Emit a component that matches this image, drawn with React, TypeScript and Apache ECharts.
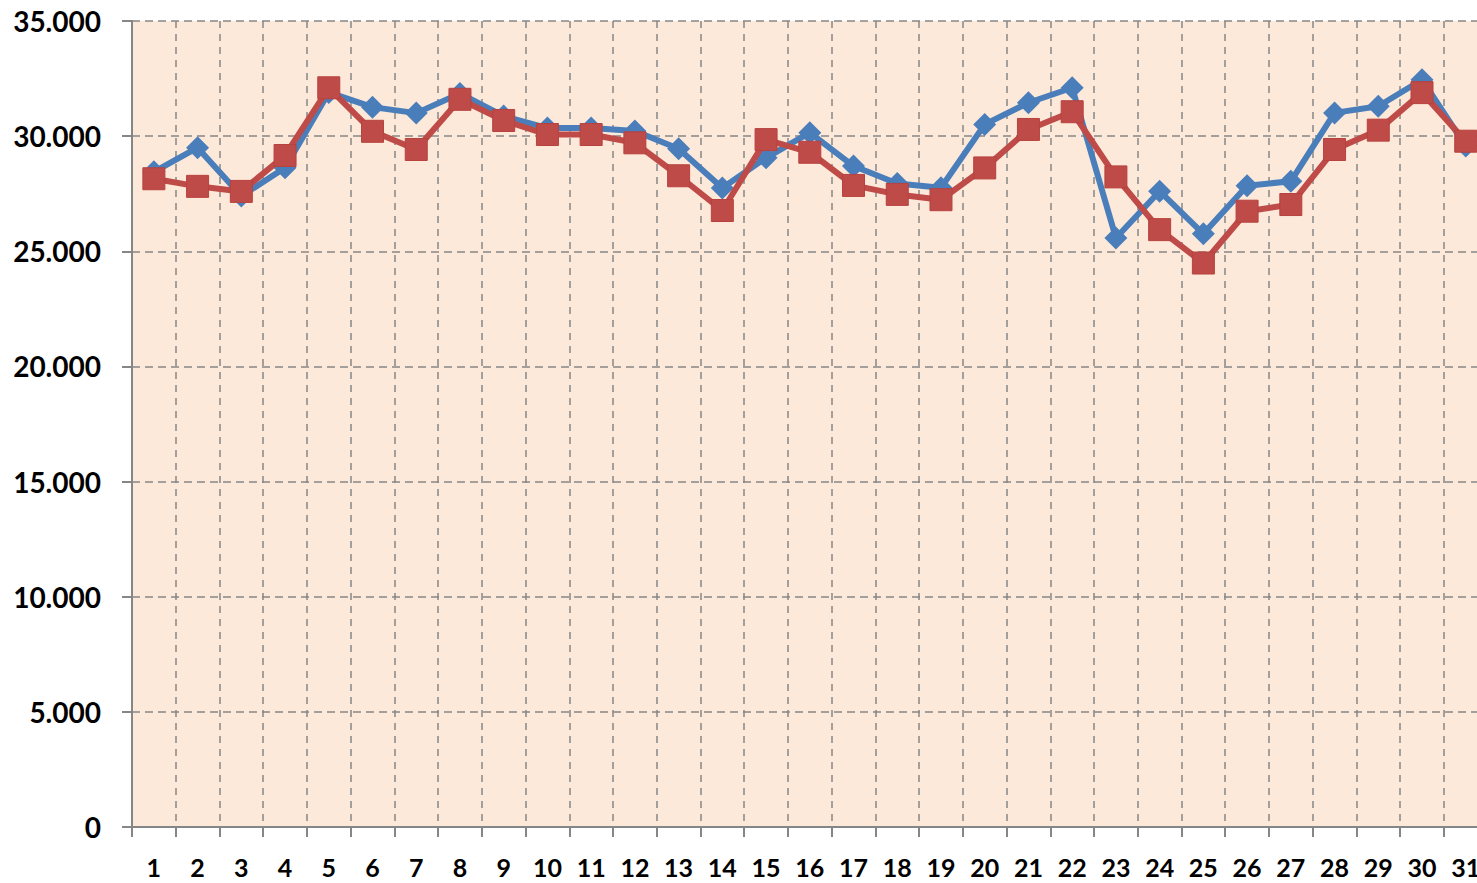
import React, { useEffect, useRef } from "react";
import * as echarts from "echarts";

const categories = ["1","2","3","4","5","6","7","8","9","10","11","12","13","14","15","16","17","18","19","20","21","22","23","24","25","26","27","28","29","30","31"];
const blueSeries = [28450, 29500, 27400, 28630, 31900, 31260, 31000, 31850, 30870, 30350, 30350, 30220, 29450, 27750, 29060, 30150, 28700, 27940, 27760, 30510, 31450, 32100, 25580, 27610, 25760, 27850, 28040, 31010, 31300, 32450, 29570];
const redSeries = [28150, 27820, 27600, 29160, 32100, 30210, 29420, 31600, 30680, 30070, 30070, 29710, 28280, 26770, 29850, 29300, 27860, 27470, 27240, 28620, 30290, 31060, 28230, 25940, 24490, 26740, 27030, 29420, 30260, 31890, 29780];
const yTicks = { min: 0, max: 35000, interval: 5000 };

const fmt = (v: number) => {
  if (v === 0) return "0";
  const s = String(Math.round(v));
  return s.replace(/\B(?=(\d{3})+(?!\d))/g, ".");
};

export default function App() {
  const ref = useRef<HTMLDivElement>(null);
  useEffect(() => {
    if (!ref.current) return;
    const chart = echarts.init(ref.current, null, { renderer: "svg" });
    const gridColor = "#868686";
    chart.setOption({
      animation: false,
      grid: {
        left: 132,
        top: 21,
        bottom: 56,
        right: 12.4,
        show: true,
        backgroundColor: "#FDE9D9",
        borderWidth: 0,
      },
      xAxis: {
        type: "category",
        data: categories,
        boundaryGap: true,
        axisLine: { show: true, lineStyle: { color: gridColor, width: 2 } },
        axisTick: { show: true, length: 10, alignWithLabel: false, lineStyle: { color: gridColor, width: 2 } },
        axisLabel: {
          margin: 28,
          color: "#000",
          fontFamily: "Lato",
          fontWeight: "bold",
          fontSize: 25,
          lineHeight: 24,
          interval: 0,
        },
        splitLine: { show: true, lineStyle: { color: gridColor, width: 1.5, type: [7, 6] } },
      },
      yAxis: {
        type: "value",
        min: yTicks.min,
        max: yTicks.max,
        interval: yTicks.interval,
        axisLine: { show: true, lineStyle: { color: gridColor, width: 2 } },
        axisTick: { show: true, length: 10, lineStyle: { color: gridColor, width: 2 } },
        axisLabel: {
          margin: 31,
          color: "#000",
          fontFamily: "Lato",
          fontWeight: "bold",
          fontSize: 28,
          formatter: (v: number) => fmt(v),
        },
        splitLine: { show: true, lineStyle: { color: gridColor, width: 1.5, type: [8, 5] } },
      },
      series: [
        {
          name: "A",
          type: "line",
          data: blueSeries,
          symbol: "diamond",
          symbolSize: 23,
          lineStyle: { color: "#4A7EBB", width: 6 },
          itemStyle: { color: "#4A7EBB" },
          z: 2,
        },
        {
          name: "B",
          type: "line",
          data: redSeries,
          symbol: "rect",
          symbolSize: 22,
          lineStyle: { color: "#BE4B48", width: 6 },
          itemStyle: { color: "#BE4B48", borderColor: "#B7423F", borderWidth: 1 },
          z: 3,
        },
      ],
    });
    return () => chart.dispose();
  }, []);
  return (
    <div style={{ position: "fixed", left: 0, top: 0, width: 1477, height: 883, overflow: "hidden", background: "#fff" }}>
      <div ref={ref} style={{ width: 1500, height: 883 }} />
    </div>
  );
}
